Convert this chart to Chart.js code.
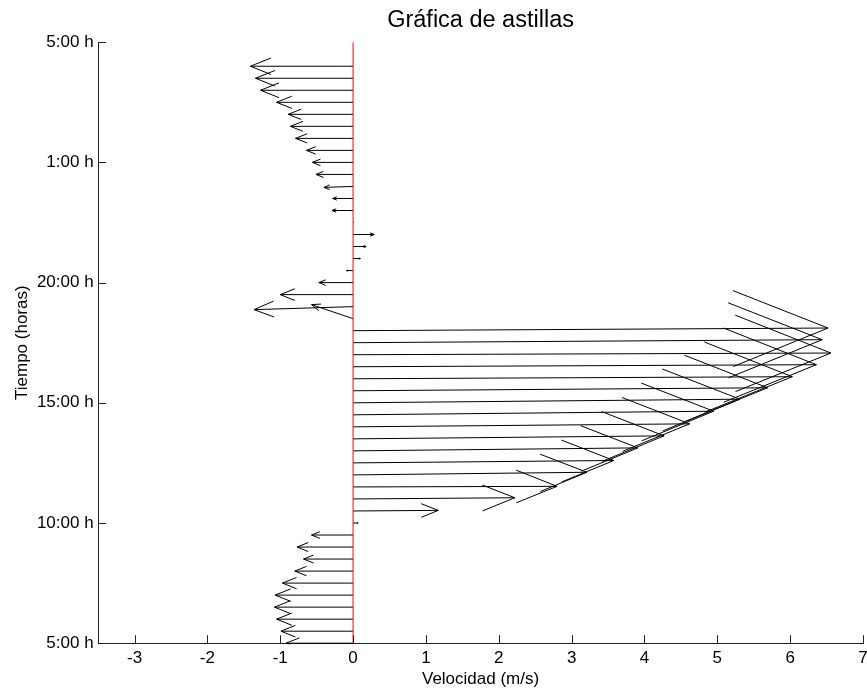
<!DOCTYPE html>
<html>
<head>
<meta charset="utf-8">
<title>Gráfica de astillas</title>
<script src="https://cdn.jsdelivr.net/npm/chart.js@4.4.1/dist/chart.umd.min.js"></script>
<style>
    html, body { margin: 0; padding: 0; background: #fff; }
</style>
</head>
<body>
<canvas id="graph1" width="867" height="690"></canvas>
<script>
// posición de cada astilla en el eje del tiempo (una cada media hora)
const timeIdx = [0, 1, 2, 3, 4, 5, 6, 7, 8, 9,
                 10, 11, 12, 13, 14, 15, 16, 17, 18, 19,
                 20, 21, 22, 23, 24, 25, 26, 27, 28, 29,
                 30, 31, 32, 33, 34, 35, 36, 37, 38, 39,
                 40, 41, 42, 43, 44, 45, 46, 47, 48];
// componente horizontal (velocidad, m/s)
const velU = [-0.92, -0.99, -1.05, -1.08, -1.07, -0.97, -0.80, -0.68, -0.77, -0.57,
              0.07, 1.17, 2.22, 2.80, 3.21, 3.58, 3.91, 4.27, 4.62, 4.95,
              5.31, 5.69, 6.03, 6.36, 6.56, 6.44, 6.52, -0.57, -1.36, -1.00,
              -0.47, -0.09, 0.10, 0.18, 0.29, 0.01, -0.29, -0.28, -0.40, -0.51,
              -0.56, -0.64, -0.79, -0.86, -0.89, -1.05, -1.27, -1.34, -1.41];
// componente vertical (en unidades del eje del tiempo)
const velV = [0, 0, 0, 0, 0, 0, 0, 0, 0, 0,
              0, 0.05, 0.1, 0.05, 0.22, 0.2, 0.25, 0.25, 0.25, 0.3,
              0.3, 0.25, 0.17, 0.17, 0.14, 0.25, 0.22, 1.17, -0.25, 0,
              0, 0, 0, 0, 0, 0, 0, 0, -0.08, 0,
              0, 0, 0, 0, 0, 0, 0, 0, 0];
const yTickPos = [0, 10, 20, 30, 40, 50];
const yTickLabels = ['5:00 h', '10:00 h', '15:00 h', '20:00 h', '1:00 h', '5:00 h'];
const xTickVals = [-3, -2, -1, 0, 1, 2, 3, 4, 5, 6, 7];

const fontFam = "'Liberation Sans', Arial, Helvetica, sans-serif";

// astillas: recta desde (0, t) hasta la punta, con cabeza de flecha tipo feather
const featherPlugin = {
    id: 'feather',
    beforeDatasetsDraw(chart) {
        const meta = chart.getDatasetMeta(1);
        const xs = chart.scales.x, ys = chart.scales.y;
        const area = chart.chartArea;
        const ctx = chart.ctx;
        ctx.save();
        ctx.beginPath();
        ctx.rect(area.left - 1, area.top - 1, area.right - area.left + 2, area.bottom - area.top + 2);
        ctx.clip();
        ctx.strokeStyle = '#000';
        ctx.lineWidth = 1;
        ctx.beginPath();
        meta.data.forEach(function(pt, k) {
            const x0 = xs.getPixelForValue(0);
            const y0 = ys.getPixelForValue(timeIdx[k]);
            const dx = pt.x - x0, dy = pt.y - y0;
            const bx = x0 + 0.8 * dx, by = y0 + 0.8 * dy;
            ctx.moveTo(x0, y0);
            ctx.lineTo(pt.x, pt.y);
            ctx.moveTo(bx - 0.08 * dy, by + 0.08 * dx);
            ctx.lineTo(pt.x, pt.y);
            ctx.lineTo(bx + 0.08 * dy, by - 0.08 * dx);
        });
        ctx.stroke();
        ctx.restore();
    },
    afterDraw(chart) {
        // marcas de los ejes hacia dentro
        const xs = chart.scales.x, ys = chart.scales.y;
        const area = chart.chartArea;
        const ctx = chart.ctx;
        ctx.save();
        ctx.strokeStyle = '#222';
        ctx.lineWidth = 1;
        ctx.beginPath();
        xs.ticks.forEach(function(t) {
            const px = Math.round(xs.getPixelForValue(t.value)) + 0.5;
            ctx.moveTo(px, area.bottom);
            ctx.lineTo(px, area.bottom - 8);
        });
        ys.ticks.forEach(function(t) {
            const py = Math.round(ys.getPixelForValue(t.value)) + 0.5;
            ctx.moveTo(area.left, py);
            ctx.lineTo(area.left + 8, py);
        });
        ctx.stroke();
        ctx.restore();
    }
};

const tipsData = timeIdx.map((t, k) => ({ x: velU[k], y: t + velV[k] }));

const ctxG = document.getElementById('graph1').getContext('2d');
const featherChart = new Chart(ctxG, {
    type: 'scatter',
    data: {
        datasets: [{
            label: 'eje',
            data: [{ x: 0, y: 0 }, { x: 0, y: 50 }],
            showLine: true,
            borderColor: '#ff0000',
            borderWidth: 1,
            pointRadius: 0
        }, {
            label: 'Velocidad',
            data: tipsData,
            showLine: false,
            pointRadius: 0,
            pointHoverRadius: 0
        }]
    },
    options: {
        responsive: false,
        animation: false,
        layout: { padding: { left: 6, right: 0, top: 0, bottom: 0 } },
        plugins: {
            legend: { display: false },
            tooltip: { enabled: false },
            title: {
                display: true,
                fullSize: false,
                text: 'Gráfica de astillas',
                color: '#000',
                font: { family: fontFam, size: 23.5, weight: 'normal' },
                padding: { top: 6, bottom: 8 }
            }
        },
        scales: {
            x: {
                type: 'linear',
                min: -3.5,
                max: 7,
                afterBuildTicks: function(scale) {
                    scale.ticks = xTickVals.map(v => ({ value: v }));
                },
                afterFit: function(scale) {
                    scale.paddingRight = 4;
                },
                grid: { display: false, drawTicks: false },
                border: { display: true, color: '#222', width: 1 },
                ticks: {
                    color: '#000',
                    padding: 5,
                    font: { family: fontFam, size: 17 }
                },
                title: {
                    display: true,
                    text: 'Velocidad (m/s)',
                    color: '#000',
                    font: { family: fontFam, size: 17 },
                    padding: { top: -4, bottom: 0 }
                }
            },
            y: {
                type: 'linear',
                min: 0,
                max: 50,
                afterBuildTicks: function(scale) {
                    scale.ticks = yTickPos.map(v => ({ value: v }));
                },
                grid: { display: false, drawTicks: false },
                border: { display: true, color: '#222', width: 1 },
                ticks: {
                    color: '#000',
                    padding: 4.5,
                    font: { family: fontFam, size: 17 },
                    callback: function(value) {
                        return yTickLabels[yTickPos.indexOf(value)];
                    }
                },
                title: {
                    display: true,
                    text: 'Tiempo (horas)',
                    color: '#000',
                    font: { family: fontFam, size: 17 },
                    padding: { top: 6, bottom: 0 }
                }
            }
        }
    },
    plugins: [featherPlugin]
});
</script>
</body>
</html>
